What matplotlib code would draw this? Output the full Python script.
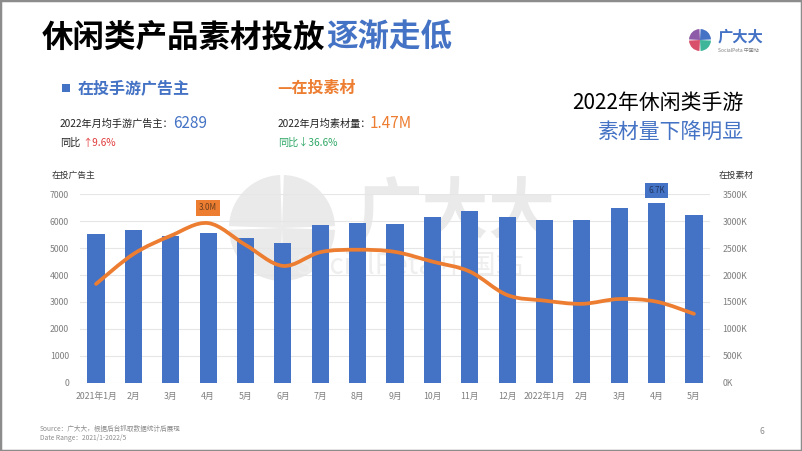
import matplotlib
matplotlib.use("Agg")
import matplotlib.pyplot as plt
import numpy as np
from matplotlib.path import Path
from matplotlib.patches import PathPatch, Wedge, Rectangle

plt.rcParams['font.family'] = ['Noto Sans CJK SC', 'DejaVu Sans']

# data
months = ['2021年1月', '2月', '3月', '4月', '5月', '6月', '7月', '8月', '9月',
          '10月', '11月', '12月', '2022年1月', '2月', '3月', '4月', '5月']
advertisers = [5530, 5680, 5460, 5565, 5390, 5180, 5860, 5940, 5900,
               6150, 6380, 6160, 6040, 6055, 6480, 6680, 6230]
materials_k = [1835, 2390, 2730, 2965, 2560, 2170, 2425, 2470, 2430,
               2250, 2065, 1630, 1525, 1465, 1555, 1505, 1280]
left_ticks = [0, 1000, 2000, 3000, 4000, 5000, 6000, 7000]
right_ticks = [0, 500, 1000, 1500, 2000, 2500, 3000, 3500]

BLUE = '#4472C4'
ORANGE = '#ED7D31'
GRAY = '#7F7F7F'
WM = '#EAEAEA'

W, H = 802, 451
fig = plt.figure(figsize=(W / 100, H / 100), dpi=100)
fig.patch.set_facecolor('white')


def fx(x):
    return x / W


def fy(y):
    return 1 - y / H


def inch(x, y):
    return (x / 100, (H - y) / 100)


# frame
fig.add_artist(Rectangle((0, 0), 1, 1, transform=fig.transFigure, fill=False,
                         edgecolor='#8C8C8C', lw=2.5))

# watermark
cx, cy = inch(282, 228)
for a in range(4):
    fig.add_artist(Wedge((cx, cy), 0.53, a * 90 + 2, a * 90 + 88,
                         transform=fig.dpi_scale_trans, facecolor=WM,
                         edgecolor='none', zorder=-2))
fig.text(fx(455), fy(214), '广大大', fontsize=48, color=WM, ha='center',
         va='center', weight='bold', zorder=-2)
fig.text(fx(410), fy(266), 'SocialPeta 中国站', fontsize=20, color='#EEEEEE', ha='center',
         va='center', zorder=-2)

# main axes
ax = fig.add_axes([fx(80), fy(382.7), fx(710) - fx(80), fy(194.3) - fy(382.7)])
ax.set_facecolor('none')
x = np.arange(len(months))
ax.bar(x, advertisers, width=0.46, color=BLUE, zorder=2)
ax.set_xlim(-0.43, len(months) - 1 + 0.43)
ax.set_ylim(0, 7000)
ax.set_yticks(left_ticks)
ax.set_yticklabels([str(v) for v in left_ticks])
ax.set_xticks(x)
ax.set_xticklabels(months)
ax.grid(axis='y', color='#E6E6E6', lw=0.8, zorder=0)
ax.set_axisbelow(True)
for s in ax.spines.values():
    s.set_visible(False)
ax.tick_params(axis='both', length=0, labelsize=6.3, colors=GRAY)
ax.tick_params(axis='x', pad=7)
ax.tick_params(axis='y', pad=8)

ax2 = ax.twinx()
ax2.set_ylim(0, 3500)
ax2.set_yticks(right_ticks)
ax2.set_yticklabels([f'{v}K' for v in right_ticks])
for s in ax2.spines.values():
    s.set_visible(False)
ax2.tick_params(axis='y', length=0, labelsize=6.3, colors=GRAY, pad=9)

# smooth line through the material counts (Catmull-Rom as Bezier)
pts = np.column_stack([x, materials_k]).astype(float)
verts = [pts[0]]
codes = [Path.MOVETO]
n = len(pts)
for i in range(n - 1):
    p0 = pts[max(i - 1, 0)]
    p1 = pts[i]
    p2 = pts[i + 1]
    p3 = pts[min(i + 2, n - 1)]
    c1 = p1 + (p2 - p0) / 6
    c2 = p2 - (p3 - p1) / 6
    verts += [c1, c2, p2]
    codes += [Path.CURVE4] * 3
ax2.add_patch(PathPatch(Path(verts, codes), fill=False, edgecolor=ORANGE, lw=2.7,
                        capstyle='round', zorder=3))

# value tags
imax = int(np.argmax(materials_k))
ax2.annotate(f'{materials_k[imax] / 1000:.1f}M', (x[imax], materials_k[imax]),
             xytext=(0, 11), textcoords='offset points', ha='center', va='center',
             fontsize=5.8, color='#6A4020',
             bbox=dict(boxstyle='square,pad=0.4', fc=ORANGE, ec='none'))
jmax = int(np.argmax(advertisers))
ax.annotate(f'{advertisers[jmax] / 1000:.1f}K', (x[jmax], advertisers[jmax]),
            xytext=(0, 9), textcoords='offset points', ha='center', va='center',
            fontsize=5.8, color='#1F3560',
            bbox=dict(boxstyle='square,pad=0.4', fc=BLUE, ec='none'))

# axis titles
fig.text(fx(52), fy(175), '在投广告主', fontsize=6.3, color='#333333', va='center')
fig.text(fx(719), fy(175), '在投素材', fontsize=6.3, color='#333333', va='center')

# title
fig.text(fx(42), fy(38), '休闲类产品素材投放', fontsize=22.7, weight='bold',
         color='black', va='center')
fig.text(fx(326), fy(38), '逐渐走低', fontsize=22.7, weight='bold',
         color=BLUE, va='center')

# logo top right
lx, ly = inch(700, 40)
logo_cols = [BLUE, '#8E5BA8', '#D9506A', '#3FB59A']
for a, c in enumerate(logo_cols):
    fig.add_artist(Wedge((lx, ly), 0.11, a * 90 + 3, a * 90 + 87,
                         transform=fig.dpi_scale_trans, facecolor=c, edgecolor='none'))
fig.text(fx(718), fy(36), '广大大', fontsize=11, weight='bold', color=BLUE, va='center')
fig.text(fx(718), fy(51), 'SocialPeta 中国站', fontsize=3.6, color=GRAY, va='center')

# left summary block
fig.add_artist(Rectangle((fx(62), fy(92)), fx(8), 8 / H, transform=fig.transFigure,
                         facecolor=BLUE, edgecolor='none'))
fig.text(fx(78), fy(88), '在投手游广告主', fontsize=11.5, weight='bold', color=BLUE,
         va='center')
fig.text(fx(60), fy(124), '2022年月均手游广告主：', fontsize=7.3, color='#222222',
         va='center')
fig.text(fx(173), fy(123), '6289', fontsize=11, color=BLUE, va='center')
fig.text(fx(60), fy(143), '同比', fontsize=7.3, color='#222222', va='center')
fig.text(fx(82), fy(143), '↑9.6%', fontsize=7.3, color='#E23B3B', va='center')

fig.text(fx(277), fy(88), '—在投素材', fontsize=11.5, weight='bold', color=ORANGE,
         va='center')
fig.text(fx(278), fy(124), '2022年月均素材量：', fontsize=7.3, color='#222222',
         va='center')
fig.text(fx(370), fy(123), '1.47M', fontsize=11, color=ORANGE, va='center')
fig.text(fx(278), fy(143), '同比↓36.6%', fontsize=7.3, color='#2FA866', va='center')

# right headline
fig.text(fx(743), fy(103), '2022年休闲类手游', fontsize=15, color='black',
         ha='right', va='center')
fig.text(fx(743), fy(133), '素材量下降明显', fontsize=15, color=BLUE,
         ha='right', va='center')

# footer
fig.text(fx(40), fy(429), 'Source：广大大，根据后台抓取数据统计后展现', fontsize=4.8,
         color='#8C8C8C', va='center')
fig.text(fx(40), fy(438), 'Date Range：2021/1-2022/5', fontsize=4.8, color='#8C8C8C',
         va='center')
fig.text(fx(760), fy(431), '6', fontsize=6, color='#8C8C8C', va='center')

fig.savefig('out.png', dpi=100)
